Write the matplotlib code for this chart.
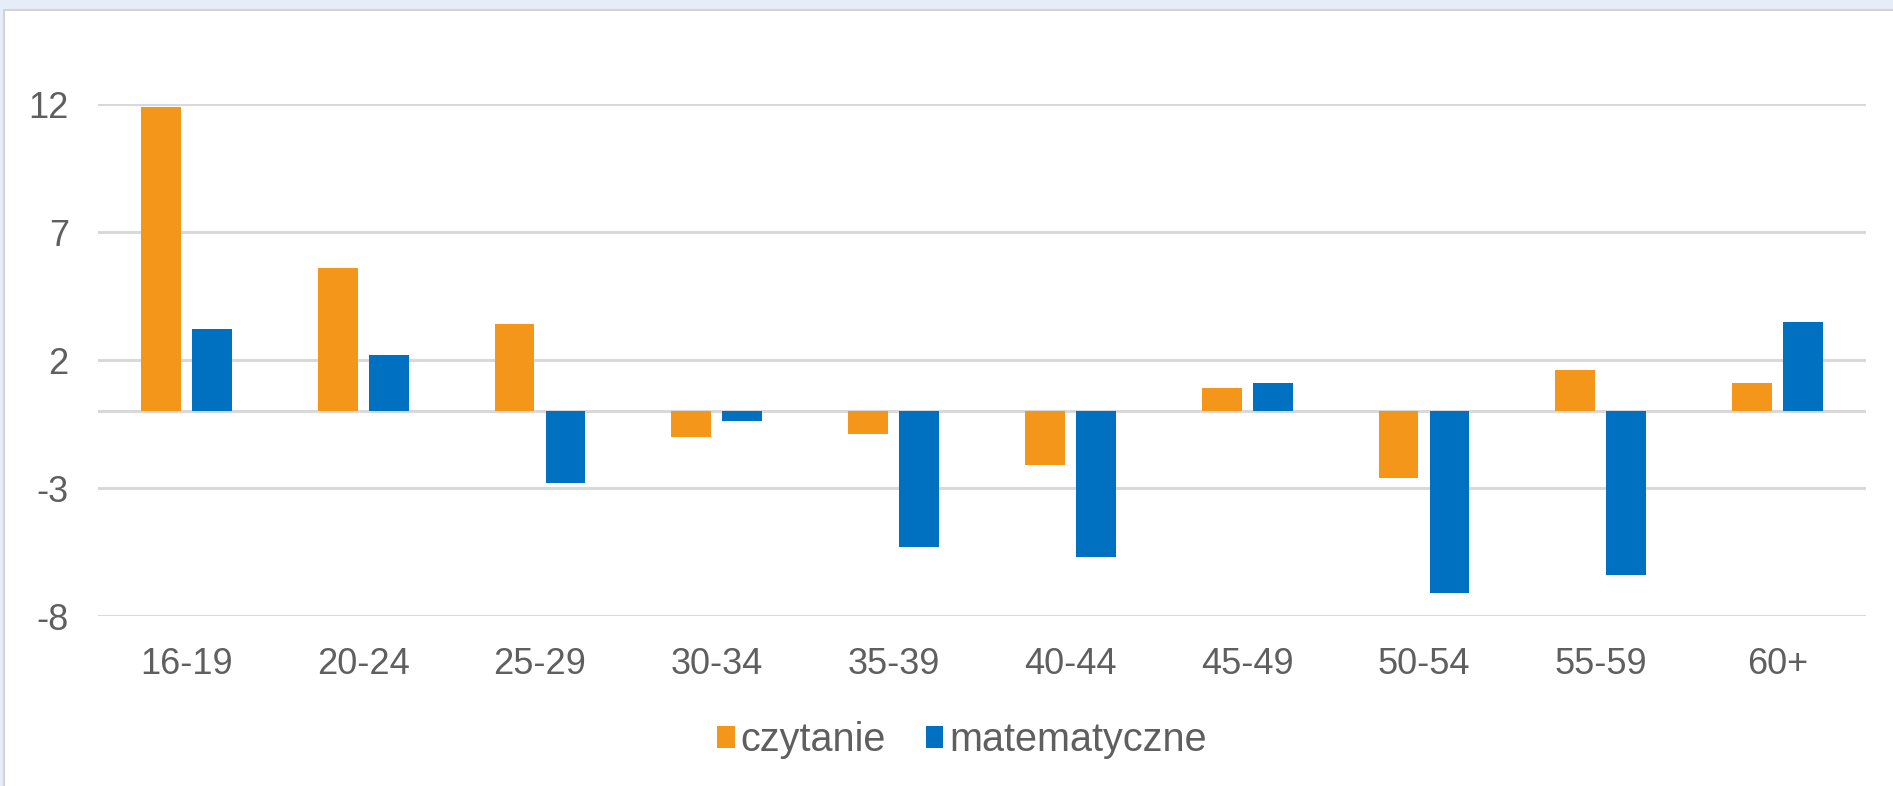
import matplotlib
matplotlib.use("Agg")
import matplotlib.pyplot as plt
from matplotlib.patches import Rectangle, Patch
import numpy as np

categories = ["16-19", "20-24", "25-29", "30-34", "35-39", "40-44", "45-49", "50-54", "55-59", "60+"]
czytanie = [11.9, 5.6, 3.4, -1.0, -0.9, -2.1, 0.9, -2.6, 1.6, 1.1]
matematyczne = [3.2, 2.2, -2.8, -0.4, -5.3, -5.7, 1.1, -7.1, -6.4, 3.5]
yticks = [12, 7, 2, -3, -8]
series_names = ["czytanie", "matematyczne"]

ORANGE = "#F3961A"
BLUE = "#0070C0"
GRID = "#D9D9D9"
TEXT = "#5F5F5F"

plt.rcParams['font.family'] = ['Liberation Sans', 'DejaVu Sans']

W, H = 1893, 786
fig = plt.figure(figsize=(W / 100, H / 100), dpi=100)
fig.patch.set_facecolor("#E6EDF9")
# white panel with thin grey border
panel = Rectangle((4 / W, -0.05), 1.1, 1 - 10 / H + 0.05, transform=fig.transFigure,
                  facecolor="white", edgecolor="#D3D3D3", linewidth=1.5, zorder=-10)
fig.patches.append(panel)

ax = fig.add_axes([98 / W, 1 - 616 / H, (1866 - 98) / W, (616 - 104) / H])
ax.set_zorder(1)
ax.set_facecolor("none")

x = np.arange(len(categories))
bw = 0.225
off = 0.144
ax.bar(x - off, czytanie, bw, color=ORANGE, label=series_names[0], zorder=3)
ax.bar(x + off, matematyczne, bw, color=BLUE, label=series_names[1], zorder=3)

ax.set_xlim(-0.5, len(categories) - 0.5)
ax.set_ylim(-8, 12)
ax.set_yticks(yticks)
ax.set_yticklabels([str(v) for v in yticks])
ax.set_xticks(x)
ax.set_xticklabels(categories)

for v in yticks:
    ax.axhline(v, color=GRID, linewidth=2.2, zorder=1)
ax.axhline(0, color=GRID, linewidth=2.2, zorder=1)

for s in ax.spines.values():
    s.set_visible(False)
ax.tick_params(axis="both", length=0, labelsize=26, labelcolor=TEXT)
ax.tick_params(axis="y", pad=21)
ax.tick_params(axis="x", pad=22)

handles = [Patch(facecolor=ORANGE, edgecolor="none"), Patch(facecolor=BLUE, edgecolor="none")]
leg = fig.legend(handles, series_names, loc="center", bbox_to_anchor=(962 / W, 1 - 740 / H),
                 ncol=2, frameon=False, fontsize=28.5, handlelength=0.45, handleheight=0.45,
                 handletextpad=0.15, columnspacing=1.0, labelcolor=TEXT)

fig.savefig("out.png", dpi=100, facecolor=fig.get_facecolor())
